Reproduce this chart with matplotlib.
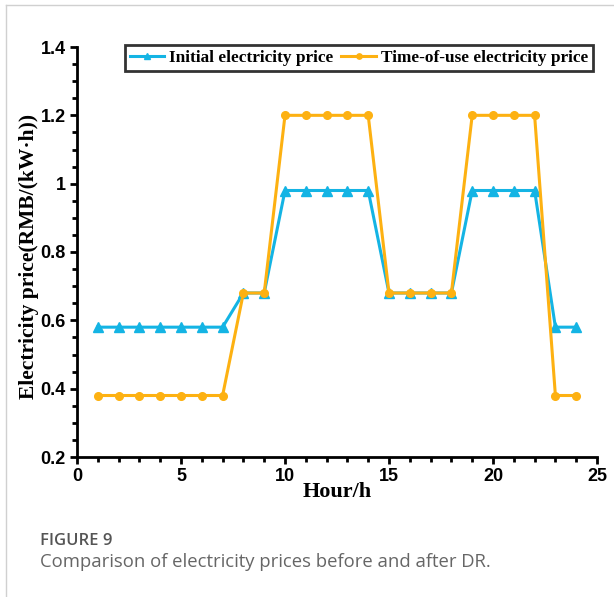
import matplotlib
matplotlib.use("Agg")
import matplotlib.pyplot as plt
from matplotlib.lines import Line2D
from matplotlib.ticker import MultipleLocator

hours = list(range(1, 25))
initial_price = [0.58]*7 + [0.68]*2 + [0.98]*5 + [0.68]*4 + [0.98]*4 + [0.58]*2
tou_price = [0.38]*7 + [0.68]*2 + [1.2]*5 + [0.68]*4 + [1.2]*4 + [0.38]*2
x_ticks = [0, 5, 10, 15, 20, 25]
y_ticks = [0.2, 0.4, 0.6, 0.8, 1.0, 1.2, 1.4]
y_ticklabels = ["0.2", "0.4", "0.6", "0.8", "1", "1.2", "1.4"]

blue = "#14b4e4"
orange = "#fdb112"

fig = plt.figure(figsize=(6.14, 5.97), dpi=100)
ax = fig.add_axes([77/614, 1-457/597, 520/614, 410/597])

ax.plot(hours, initial_price, color=blue, lw=2.2, marker="^", ms=7,
        label="Initial electricity price", zorder=3)
ax.plot(hours, tou_price, color=orange, lw=2.2, marker="o", ms=5.5,
        label="Time-of-use electricity price", zorder=4)

ax.set_xlim(0, 25)
ax.set_ylim(0.2, 1.4)
ax.set_xticks(x_ticks)
ax.set_yticks(y_ticks)
ax.set_yticklabels(y_ticklabels)
ax.xaxis.set_minor_locator(MultipleLocator(1))
ax.yaxis.set_minor_locator(MultipleLocator(0.05))
for s in ["top", "right"]:
    ax.spines[s].set_visible(False)
for s in ["left", "bottom"]:
    ax.spines[s].set_linewidth(2)
ax.tick_params(which="major", direction="out", length=5, width=2, labelsize=13, pad=3)
ax.tick_params(which="minor", direction="out", length=3.5, width=2)
for lab in ax.get_xticklabels() + ax.get_yticklabels():
    lab.set_fontfamily("Liberation Sans")
    lab.set_fontweight("bold")

ax.set_xlabel("Hour/h", fontfamily="Liberation Serif", fontweight="bold",
              fontsize=16, labelpad=-2)
ax.set_ylabel("Electricity price(RMB/(kW·h))", fontfamily="Liberation Serif",
              fontweight="bold", fontsize=15.5)
ax.yaxis.set_label_coords(-0.074, 0.49)

leg = ax.legend(loc="upper right", ncol=2, bbox_to_anchor=(0.993, 1.006),
                prop={"family": "Liberation Serif", "weight": "bold", "size": 12.4},
                frameon=True, fancybox=False, borderpad=0.3, handlelength=2.0,
                handletextpad=0.3, columnspacing=0.45, borderaxespad=0.0,
                markerscale=0.7)
leg.get_frame().set_edgecolor("black")
leg.get_frame().set_linewidth(2)

# card frame lines
fig.add_artist(Line2D([6/614, 6/614], [0, 1-5/597], color="#d0d0d0", lw=1))
fig.add_artist(Line2D([6/614, 1], [1-5/597, 1-5/597], color="#d0d0d0", lw=1))

fig.text(40/614, 1-541/597, "FIGURE 9", fontfamily="Open Sans", fontweight="semibold",
         fontsize=12, color="#555555", va="center")
fig.text(40/614, 1-562/597, "Comparison of electricity prices before and after DR.",
         fontfamily="Open Sans", fontsize=13.3, color="#666666", va="center")

fig.savefig("out.png", dpi=100)
